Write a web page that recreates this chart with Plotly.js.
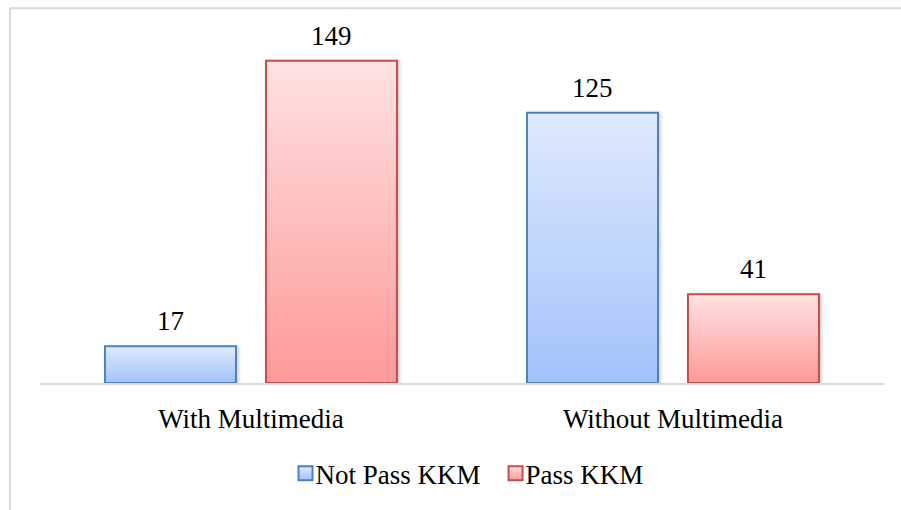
<!DOCTYPE html>
<html>
<head>
<meta charset="utf-8">
<script src="https://cdn.plot.ly/plotly-3.0.1.min.js"></script>
<style>html,body{margin:0;padding:0;background:#fff;}#chart{width:901px;height:510px;}</style>
</head>
<body>
<div id="chart"></div>
<script>
const categories = ["With Multimedia", "Without Multimedia"];
const notPass = [17, 125];
const pass = [149, 41];
const seriesNames = ["Not Pass KKM", "Pass KKM"];

const font = "Times New Roman, Liberation Serif, serif";
const fs = 27;

const traces = [
  {type: "bar", name: seriesNames[0], x: categories, y: notPass,
   marker: {color: "#c3d7fb", line: {color: "#4f81bd", width: 2}}, hoverinfo: "none"},
  {type: "bar", name: seriesNames[1], x: categories, y: pass,
   marker: {color: "#ffbcbc", line: {color: "#c0504d", width: 2}}, hoverinfo: "none"}
];

const annotations = [];
[notPass, pass].forEach((vals, s) => {
  vals.forEach((v, i) => {
    annotations.push({
      x: categories[i], y: v, xref: "x", yref: "y",
      xshift: (s === 0 ? -1 : 1) * 80.5,
      yshift: 8, yanchor: "bottom",
      text: String(v), showarrow: false,
      font: {family: font, size: fs, color: "#000"}
    });
  });
});

const layout = {
  width: 901, height: 510,
  margin: {l: 40, r: 17, t: 37, b: 125},
  paper_bgcolor: "#fff", plot_bgcolor: "#fff",
  barmode: "group", bargap: 0.237, bargroupgap: 0.186,
  font: {family: font, size: fs, color: "#000"},
  xaxis: {showgrid: false, zeroline: false, showline: true, linecolor: "#d9d9d9", linewidth: 2,
          ticks: "", ticklabelstandoff: 11, tickfont: {family: font, size: fs, color: "#000"}},
  yaxis: {range: [0, 160], visible: false, showgrid: false, zeroline: false},
  showlegend: true,
  legend: {orientation: "h", x: 0.5, xanchor: "center", xref: "paper", y: -0.262, yanchor: "middle",
           font: {family: font, size: fs, color: "#000"}, itemwidth: 30, tracegroupgap: 0,
           bgcolor: "rgba(0,0,0,0)"},
  annotations: annotations,
  shapes: [
    {type: "line", xref: "paper", yref: "paper", x0: -0.0355, x1: 1.03, y0: 1.083, y1: 1.083,
     line: {color: "#d9d9d9", width: 2}},
    {type: "line", xref: "paper", yref: "paper", x0: -0.0355, x1: -0.0355, y0: 1.083, y1: -0.5,
     line: {color: "#d9d9d9", width: 2}}
  ]
};

Plotly.newPlot("chart", traces, layout, {displayModeBar: false, staticPlot: true}).then(gd => {
  const svg = gd.querySelector("svg.main-svg");
  const ns = "http://www.w3.org/2000/svg";
  let defs = svg.querySelector("defs");
  if (!defs) { defs = document.createElementNS(ns, "defs"); svg.insertBefore(defs, svg.firstChild); }
  const grads = [["gBlue", "#dfeafd", "#a3c2fb"], ["gRed", "#ffe2e2", "#ff9999"]];
  grads.forEach(([id, c1, c2]) => {
    const g = document.createElementNS(ns, "linearGradient");
    g.setAttribute("id", id); g.setAttribute("x1", "0"); g.setAttribute("y1", "0");
    g.setAttribute("x2", "0"); g.setAttribute("y2", "1");
    const s1 = document.createElementNS(ns, "stop"); s1.setAttribute("offset", "0"); s1.setAttribute("stop-color", c1);
    const s2 = document.createElementNS(ns, "stop"); s2.setAttribute("offset", "1"); s2.setAttribute("stop-color", c2);
    g.appendChild(s1); g.appendChild(s2); defs.appendChild(g);
  });
  const f = document.createElementNS(ns, "filter");
  f.setAttribute("id", "shadow"); f.setAttribute("x", "-10%"); f.setAttribute("y", "-10%");
  f.setAttribute("width", "130%"); f.setAttribute("height", "130%");
  f.innerHTML = '<feDropShadow dx="2" dy="1" stdDeviation="1.5" flood-color="#000" flood-opacity="0.18"/>';
  defs.appendChild(f);
  const traceGroups = gd.querySelectorAll(".barlayer .trace");
  traceGroups.forEach((tg, i) => {
    tg.querySelectorAll("path").forEach(p => {
      p.style.fill = "url(#" + grads[i][0] + ")";
      p.style.filter = "url(#shadow)";
    });
  });
  const legendTraces = gd.querySelectorAll(".legend .traces");
  legendTraces.forEach((lt, i) => {
    lt.querySelectorAll(".legendpoints path").forEach(p => {
      p.setAttribute("d", "M7,7H-7V-7H7Z");
      p.setAttribute("transform", "translate(30,0)");
      p.style.fill = "url(#" + grads[i][0] + ")";
    });
  });
});
</script>
</body>
</html>
